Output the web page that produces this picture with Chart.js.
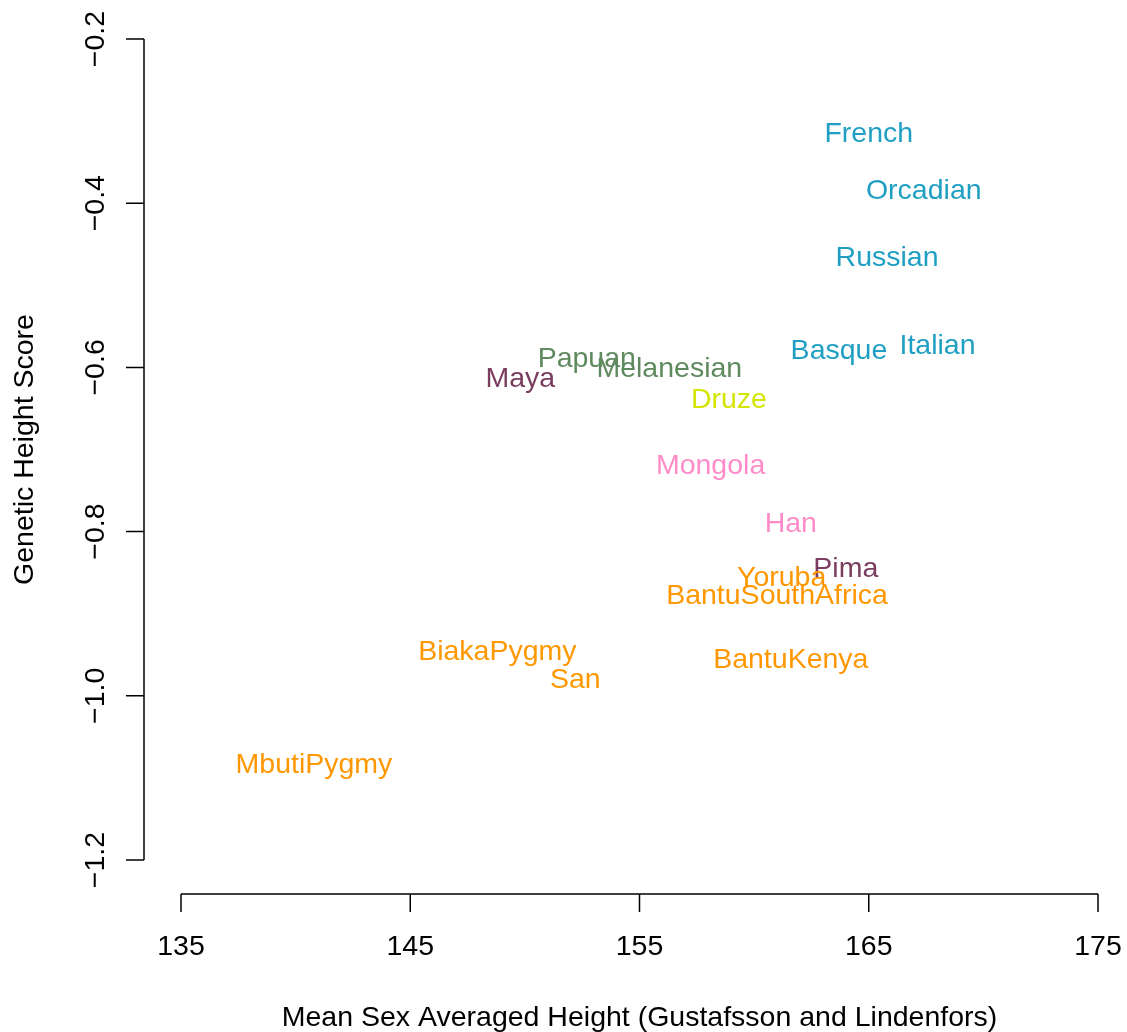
<!DOCTYPE html>
<html lang="en">
<head>
    <meta charset="UTF-8">
    <title>Genetic Height Score</title>
    <script src="https://cdn.jsdelivr.net/npm/chart.js@4.4.1/dist/chart.umd.min.js"></script>
    <style>
        html, body { margin: 0; padding: 0; background: #fff; }
        #wrap { width: 1127px; height: 1032px; }
    </style>
</head>
<body>
    <div id="wrap"><canvas id="plot" width="1127" height="1032"></canvas></div>
    <script>
        // populations, mean height (x) and genetic score (y)
        const populations = ['French', 'Orcadian', 'Russian', 'Basque', 'Italian', 'Papuan', 'Melanesian',
            'Maya', 'Druze', 'Mongola', 'Han', 'Pima', 'Yoruba', 'BantuSouthAfrica', 'BiakaPygmy',
            'San', 'BantuKenya', 'MbutiPygmy'];
        const heights = [165.0, 167.4, 165.8, 163.7, 168.0, 152.7, 156.3, 149.8, 158.9, 158.1,
            161.6, 164.0, 161.2, 161.0, 148.8, 152.2, 161.6, 140.8];
        const scores = [-0.313, -0.383, -0.465, -0.578, -0.572, -0.587, -0.600, -0.612, -0.637, -0.718,
            -0.788, -0.843, -0.854, -0.876, -0.944, -0.979, -0.954, -1.082];
        const regions = ['eu', 'eu', 'eu', 'eu', 'eu', 'oc', 'oc', 'am', 'me', 'ea',
            'ea', 'am', 'af', 'af', 'af', 'af', 'af', 'af'];
        const regionColors = { eu: '#1f9fc3', oc: '#5f8a5f', am: '#7b3d5f', me: '#d4e600', ea: '#ff8cc8', af: '#ff9800' };

        const xTicks = [135, 145, 155, 165, 175];
        const yTicks = [-1.2, -1.0, -0.8, -0.6, -0.4, -0.2];
        const xTitle = 'Mean Sex Averaged Height (Gustafsson and Lindenfors)';
        const yTitle = 'Genetic Height Score';

        const FONT = '28.5px "Liberation Sans", Arial, sans-serif';

        // text labels at each point (type = "n" + text())
        const labelPlugin = {
            id: 'labels',
            afterDatasetsDraw(chart) {
                const c = chart.ctx, xs = chart.scales.x, ys = chart.scales.y;
                c.save();
                c.font = FONT;
                c.textAlign = 'center';
                c.textBaseline = 'middle';
                populations.forEach((name, i) => {
                    c.fillStyle = regionColors[regions[i]];
                    c.fillText(name, xs.getPixelForValue(heights[i]), ys.getPixelForValue(scores[i]) + 2);
                });
                c.restore();
            }
        };

        // R-style detached axes
        const axisPlugin = {
            id: 'rAxes',
            afterDraw(chart) {
                const c = chart.ctx, xs = chart.scales.x, ys = chart.scales.y, a = chart.chartArea;
                c.save();
                c.strokeStyle = '#000';
                c.fillStyle = '#000';
                c.lineWidth = 1.5;
                c.font = FONT;

                // x axis
                const ay = a.bottom + 34;
                c.beginPath();
                c.moveTo(xs.getPixelForValue(xTicks[0]), ay);
                c.lineTo(xs.getPixelForValue(xTicks[xTicks.length - 1]), ay);
                xTicks.forEach(t => {
                    const px = xs.getPixelForValue(t);
                    c.moveTo(px, ay);
                    c.lineTo(px, ay + 18);
                });
                c.stroke();
                c.textAlign = 'center';
                c.textBaseline = 'middle';
                xTicks.forEach(t => c.fillText(String(t), xs.getPixelForValue(t), ay + 53));
                c.fillText(xTitle, (a.left + a.right) / 2, 1018);

                // y axis
                const ax = a.left - 37;
                c.beginPath();
                c.moveTo(ax, ys.getPixelForValue(yTicks[0]));
                c.lineTo(ax, ys.getPixelForValue(yTicks[yTicks.length - 1]));
                yTicks.forEach(t => {
                    const py = ys.getPixelForValue(t);
                    c.moveTo(ax, py);
                    c.lineTo(ax - 18, py);
                });
                c.stroke();
                yTicks.forEach(t => {
                    c.save();
                    c.translate(ax - 48, ys.getPixelForValue(t));
                    c.rotate(-Math.PI / 2);
                    c.fillText(t.toFixed(1).replace('-', '\u2212'), 0, 0);
                    c.restore();
                });
                c.save();
                c.translate(25, (a.top + a.bottom) / 2);
                c.rotate(-Math.PI / 2);
                c.fillText(yTitle, 0, 0);
                c.restore();
                c.restore();
            }
        };

        new Chart(document.getElementById('plot'), {
            type: 'scatter',
            data: {
                datasets: [{
                    data: populations.map((p, i) => ({ x: heights[i], y: scores[i] })),
                    pointRadius: 0,
                    pointHoverRadius: 0
                }]
            },
            options: {
                responsive: false,
                animation: false,
                devicePixelRatio: 1,
                layout: { padding: { left: 181, right: 29, top: 39, bottom: 172 } },
                plugins: { legend: { display: false }, tooltip: { enabled: false } },
                scales: {
                    x: { type: 'linear', min: 135, max: 175, display: false },
                    y: { type: 'linear', min: -1.2, max: -0.2, display: false }
                }
            },
            plugins: [labelPlugin, axisPlugin]
        });
    </script>
</body>
</html>
